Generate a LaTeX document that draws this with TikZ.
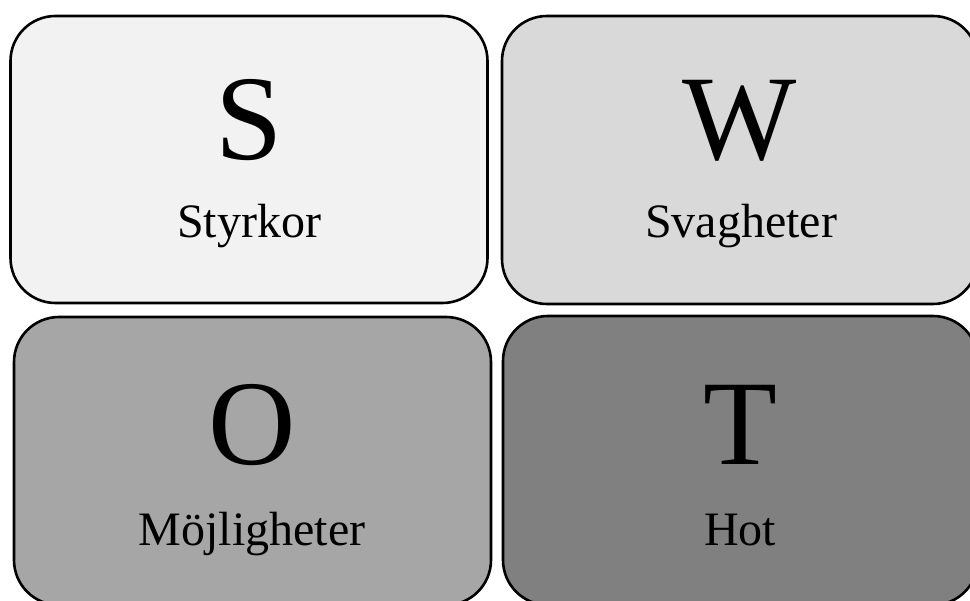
\documentclass[tikz,border=0pt]{standalone}
\usepackage{fontspec}
\setmainfont{Liberation Serif}
\definecolor{cS}{HTML}{F2F2F2}
\definecolor{cW}{HTML}{D9D9D9}
\definecolor{cO}{HTML}{A6A6A6}
\definecolor{cT}{HTML}{808080}
\tikzset{
  swotbox/.style={draw=black, line width=2.6pt, rounded corners=45pt, inner sep=0pt},
  bigletter/.style={anchor=base, inner sep=0pt, font=\fontsize{121}{121}\selectfont},
  boxlabel/.style={anchor=base, inner sep=0pt, font=\fontsize{48}{48}\selectfont}
}
\begin{document}
\begin{tikzpicture}[x=1pt,y=-1pt]
\useasboundingbox (0,0) rectangle (970,601);
\clip (0,0) rectangle (970,601);
\fill[white] (0,0) rectangle (970,601);
\path[swotbox, fill=cS] (10.5,16) rectangle (487.5,303);
\path[swotbox, fill=cW] (502,16) rectangle (978,304);
\path[swotbox, fill=cO] (14,317) rectangle (491,605);
\path[swotbox, fill=cT] (503,316) rectangle (978,605);
\node[bigletter] (lS) at (249,160) {S};
\node[bigletter] (lW) at (740,160) {W};
\node[bigletter] (lO) at (252,465) {O};
\node[bigletter] (lT) at (740,465) {T};
\node[boxlabel] (tS) at (249,238) {Styrkor};
\node[boxlabel] (tW) at (741,238) {Svagheter};
\node[boxlabel] (tO) at (252,546) {Möjligheter};
\node[boxlabel] (tT) at (740,546) {Hot};
\end{tikzpicture}
\end{document}
